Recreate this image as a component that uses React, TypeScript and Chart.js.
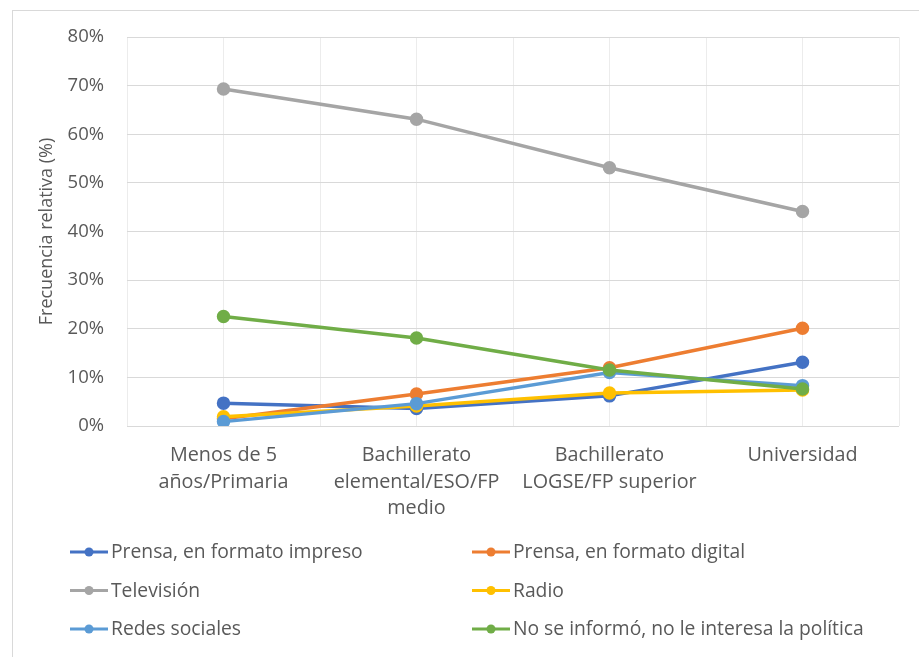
import React, { useEffect, useRef } from "react";
import { Chart, registerables } from "chart.js";

Chart.register(...registerables);

const categories: string[][] = [
  ["Menos de 5", "años/Primaria"],
  ["Bachillerato", "elemental/ESO/FP", "medio"],
  ["Bachillerato", "LOGSE/FP superior"],
  ["Universidad"],
];

const seriesNames = [
  "Prensa, en formato impreso",
  "Prensa, en formato digital",
  "Televisión",
  "Radio",
  "Redes sociales",
  "No se informó, no le interesa la política",
];

const prensaImpreso = [4.7, 3.6, 6.2, 13.1];
const prensaDigital = [1.5, 6.6, 12.0, 20.1];
const television = [69.3, 63.1, 53.1, 44.1];
const radio = [1.9, 4.1, 6.8, 7.4];
const redesSociales = [0.9, 4.6, 11.0, 8.3];
const noSeInformo = [22.5, 18.1, 11.5, 7.6];

const seriesColors = ["#4472C4", "#ED7D31", "#A5A5A5", "#FFC000", "#5B9BD5", "#70AD47"];

const yMin = 0;
const yMax = 80;
const yStep = 10;

const FONT = "'Open Sans', 'DejaVu Sans', sans-serif";
const TEXT = "#595959";

const gridLegend = {
  id: "gridLegend",
  afterDraw(chart: any) {
    const ctx = chart.ctx as CanvasRenderingContext2D;
    chart.data.datasets.forEach((ds: any, i: number) => {
      const col = i % 2;
      const row = Math.floor(i / 2);
      const x0 = col === 0 ? 70 : 472;
      const y = 552 + row * 38.5;
      ctx.save();
      ctx.strokeStyle = ds.borderColor;
      ctx.lineWidth = 3;
      ctx.beginPath();
      ctx.moveTo(x0, y);
      ctx.lineTo(x0 + 38, y);
      ctx.stroke();
      ctx.fillStyle = ds.borderColor;
      ctx.beginPath();
      ctx.arc(x0 + 19, y, 4.5, 0, Math.PI * 2);
      ctx.fill();
      ctx.fillStyle = TEXT;
      ctx.font = `19.3px ${FONT}`;
      ctx.textBaseline = "middle";
      ctx.textAlign = "left";
      ctx.fillText(ds.label, x0 + 41, y + 1);
      ctx.restore();
    });
  },
};

export default function App() {
  const ref = useRef<HTMLCanvasElement>(null);

  useEffect(() => {
    if (!ref.current) return;
    const values = [prensaImpreso, prensaDigital, television, radio, redesSociales, noSeInformo];
    const chart = new Chart(ref.current, {
      type: "line",
      data: {
        labels: categories as any,
        datasets: values.map((v, i) => ({
          label: seriesNames[i],
          data: v,
          borderColor: seriesColors[i],
          backgroundColor: seriesColors[i],
          pointBackgroundColor: seriesColors[i],
          pointBorderColor: seriesColors[i],
          borderWidth: 3.5,
          pointRadius: 5,
          pointHoverRadius: 5,
          tension: 0,
          fill: false,
          order: values.length - i,
        })),
      },
      options: {
        responsive: false,
        animation: false,
        layout: { padding: { left: 0, top: 37, right: 20, bottom: 141 } },
        plugins: {
          legend: { display: false },
          tooltip: { enabled: false },
        },
        scales: {
          x: {
            type: "category",
            position: "bottom",
            offset: true,
            grid: { offset: false, color: "#ececec", lineWidth: 1, drawTicks: false },
            border: { display: false },
            ticks: {
              color: TEXT,
              font: { family: FONT, size: 19.8, lineHeight: 1.35 },
              padding: 16,
              maxRotation: 0,
              autoSkip: false,
            },
            afterFit: (axis: any) => {
              axis.height = 90;
            },
          },
          x2: {
            type: "category",
            position: "top",
            labels: categories as any,
            offset: true,
            grid: { offset: true, color: "#ececec", lineWidth: 1, drawTicks: false },
            border: { display: false },
            ticks: { display: false },
            afterFit: (axis: any) => {
              axis.height = 0;
            },
          },
          y: {
            type: "linear",
            min: yMin,
            max: yMax,
            ticks: {
              stepSize: yStep,
              color: TEXT,
              font: { family: FONT, size: 18.5 },
              padding: 23,
              callback: (v: any) => `${v}%`,
            },
            grid: { color: "#d9d9d9", lineWidth: 1, drawTicks: false },
            border: { display: false },
            title: {
              display: true,
              text: "Frecuencia relativa (%)",
              color: TEXT,
              font: { family: FONT, size: 18 },
              padding: { top: 36, bottom: 0 },
            },
            afterFit: (axis: any) => {
              axis.width = 127;
            },
          },
        },
      },
      plugins: [gridLegend],
    });
    return () => chart.destroy();
  }, []);

  return (
    <>
      <div
        style={{
          position: "fixed",
          left: 12,
          top: 10,
          width: 940,
          height: 700,
          borderLeft: "1px solid #d9d9d9",
          borderTop: "1px solid #d9d9d9",
          boxSizing: "border-box",
        }}
      />
      <div style={{ position: "fixed", left: 0, top: 0, width: 919, height: 657 }}>
        <canvas ref={ref} width={919} height={657} />
      </div>
    </>
  );
}
